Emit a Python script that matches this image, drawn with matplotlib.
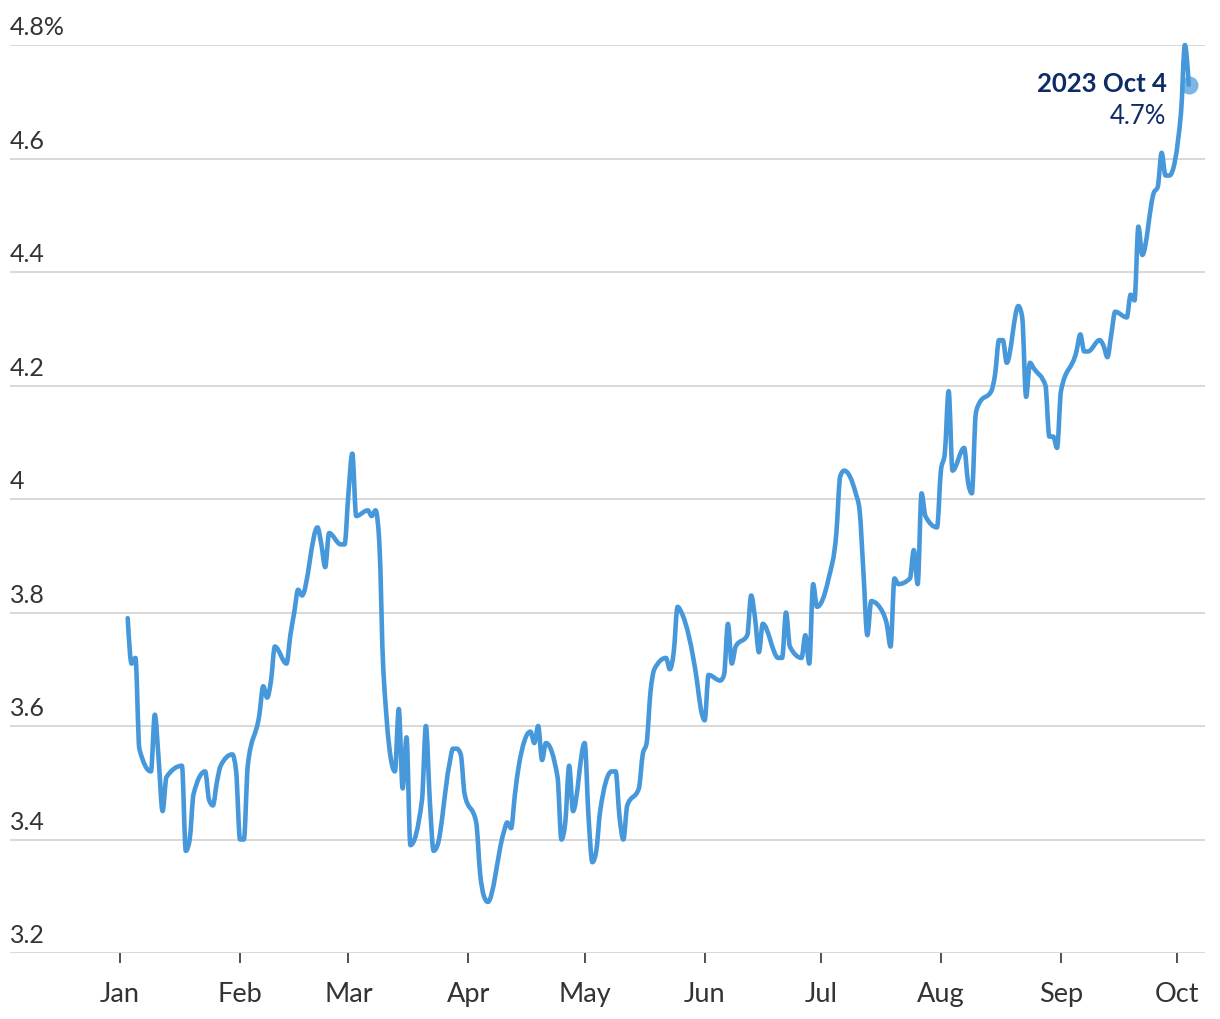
import numpy as np
import pandas as pd
import matplotlib.pyplot as plt
import matplotlib.dates as mdates
from matplotlib.path import Path
from matplotlib.patches import PathPatch

# 10-year Treasury yield, 2023, daily closes
dates = [
    '2023-01-03', '2023-01-04', '2023-01-05', '2023-01-06', '2023-01-09', '2023-01-10',
    '2023-01-11', '2023-01-12', '2023-01-13', '2023-01-17', '2023-01-18', '2023-01-19',
    '2023-01-20', '2023-01-23', '2023-01-24', '2023-01-25', '2023-01-26', '2023-01-27',
    '2023-01-30', '2023-01-31',
    '2023-02-01', '2023-02-02', '2023-02-03', '2023-02-06', '2023-02-07', '2023-02-08',
    '2023-02-09', '2023-02-10', '2023-02-13', '2023-02-14', '2023-02-15', '2023-02-16',
    '2023-02-17', '2023-02-21', '2023-02-22', '2023-02-23', '2023-02-24', '2023-02-27',
    '2023-02-28',
    '2023-03-01', '2023-03-02', '2023-03-03', '2023-03-06', '2023-03-07', '2023-03-08',
    '2023-03-09', '2023-03-10', '2023-03-13', '2023-03-14', '2023-03-15', '2023-03-16',
    '2023-03-17', '2023-03-20', '2023-03-21', '2023-03-22', '2023-03-23', '2023-03-24',
    '2023-03-27', '2023-03-28', '2023-03-29', '2023-03-30', '2023-03-31',
    '2023-04-03', '2023-04-04', '2023-04-05', '2023-04-06', '2023-04-10', '2023-04-11',
    '2023-04-12', '2023-04-13', '2023-04-14', '2023-04-17', '2023-04-18', '2023-04-19',
    '2023-04-20', '2023-04-21', '2023-04-24', '2023-04-25', '2023-04-26', '2023-04-27',
    '2023-04-28',
    '2023-05-01', '2023-05-02', '2023-05-03', '2023-05-04', '2023-05-05', '2023-05-08',
    '2023-05-09', '2023-05-10', '2023-05-11', '2023-05-12', '2023-05-15', '2023-05-16',
    '2023-05-17', '2023-05-18', '2023-05-19', '2023-05-22', '2023-05-23', '2023-05-24',
    '2023-05-25', '2023-05-26', '2023-05-30', '2023-05-31',
    '2023-06-01', '2023-06-02', '2023-06-05', '2023-06-06', '2023-06-07', '2023-06-08',
    '2023-06-09', '2023-06-12', '2023-06-13', '2023-06-14', '2023-06-15', '2023-06-16',
    '2023-06-20', '2023-06-21', '2023-06-22', '2023-06-23', '2023-06-26', '2023-06-27',
    '2023-06-28', '2023-06-29', '2023-06-30',
    '2023-07-03', '2023-07-05', '2023-07-06', '2023-07-07', '2023-07-10', '2023-07-11',
    '2023-07-12', '2023-07-13', '2023-07-14', '2023-07-17', '2023-07-18', '2023-07-19',
    '2023-07-20', '2023-07-21', '2023-07-24', '2023-07-25', '2023-07-26', '2023-07-27',
    '2023-07-28', '2023-07-31',
    '2023-08-01', '2023-08-02', '2023-08-03', '2023-08-04', '2023-08-07', '2023-08-08',
    '2023-08-09', '2023-08-10', '2023-08-11', '2023-08-14', '2023-08-15', '2023-08-16',
    '2023-08-17', '2023-08-18', '2023-08-21', '2023-08-22', '2023-08-23', '2023-08-24',
    '2023-08-25', '2023-08-28', '2023-08-29', '2023-08-30', '2023-08-31',
    '2023-09-01', '2023-09-05', '2023-09-06', '2023-09-07', '2023-09-08', '2023-09-11',
    '2023-09-12', '2023-09-13', '2023-09-14', '2023-09-15', '2023-09-18', '2023-09-19',
    '2023-09-20', '2023-09-21', '2023-09-22', '2023-09-25', '2023-09-26', '2023-09-27',
    '2023-09-28', '2023-09-29',
    '2023-10-02', '2023-10-03', '2023-10-04',
]

yields = [
    3.79, 3.71, 3.72, 3.56, 3.52, 3.62,
    3.54, 3.45, 3.51, 3.53, 3.38, 3.40,
    3.48, 3.52, 3.47, 3.46, 3.50, 3.53,
    3.55, 3.52,
    3.40, 3.40, 3.53, 3.62, 3.67, 3.65,
    3.68, 3.74, 3.71, 3.76, 3.80, 3.84,
    3.83, 3.95, 3.92, 3.88, 3.94, 3.92,
    3.92,
    4.01, 4.08, 3.97, 3.98, 3.97, 3.98,
    3.92, 3.70, 3.52, 3.63, 3.49, 3.58,
    3.39, 3.47, 3.60, 3.47, 3.38, 3.39,
    3.53, 3.56, 3.56, 3.55, 3.48,
    3.43, 3.34, 3.30, 3.29, 3.41, 3.43,
    3.42, 3.48, 3.53, 3.59, 3.57, 3.60,
    3.54, 3.57, 3.51, 3.40, 3.43, 3.53,
    3.45,
    3.57, 3.44, 3.36, 3.38, 3.45, 3.52,
    3.52, 3.44, 3.40, 3.46, 3.49, 3.55,
    3.57, 3.66, 3.70, 3.72, 3.70, 3.73,
    3.81, 3.80, 3.68, 3.63,
    3.61, 3.69, 3.68, 3.69, 3.78, 3.71,
    3.74, 3.76, 3.83, 3.79, 3.73, 3.78,
    3.72, 3.72, 3.80, 3.74, 3.72, 3.76,
    3.71, 3.85, 3.81,
    3.86, 3.94, 4.04, 4.05, 4.01, 3.98,
    3.87, 3.76, 3.82, 3.80, 3.78, 3.74,
    3.86, 3.85, 3.86, 3.91, 3.85, 4.01,
    3.97, 3.95,
    4.05, 4.08, 4.19, 4.05, 4.09, 4.03,
    4.01, 4.15, 4.17, 4.19, 4.22, 4.28,
    4.28, 4.24, 4.34, 4.32, 4.18, 4.24,
    4.23, 4.20, 4.11, 4.11, 4.09,
    4.19, 4.26, 4.29, 4.26, 4.26, 4.28,
    4.27, 4.25, 4.29, 4.33, 4.32, 4.36,
    4.35, 4.48, 4.43, 4.54, 4.55, 4.61,
    4.57, 4.57,
    4.68, 4.80, 4.73,
]

ytick_values = [3.2, 3.4, 3.6, 3.8, 4.0, 4.2, 4.4, 4.6, 4.8]
ytick_labels = ['3.2', '3.4', '3.6', '3.8', '4', '4.2', '4.4', '4.6', '4.8%']

last_label = '2023 Oct 4'
last_value_label = '4.7%'

dates = pd.to_datetime(dates)


def monotone_x_path(x, y):
    # same smoothing as d3.curveMonotoneX: cubic segments through every point
    x = np.asarray(x, dtype=float)
    y = np.asarray(y, dtype=float)
    h = np.diff(x)
    s = np.diff(y) / h
    t = np.zeros(len(x))
    for i in range(1, len(x) - 1):
        h0, h1, s0, s1 = h[i - 1], h[i], s[i - 1], s[i]
        p = (s0 * h1 + s1 * h0) / (h0 + h1)
        t[i] = (np.sign(s0) + np.sign(s1)) * min(abs(s0), abs(s1), 0.5 * abs(p))
    t[0] = (3 * s[0] - t[1]) / 2
    t[-1] = (3 * s[-1] - t[-2]) / 2
    verts = [(x[0], y[0])]
    codes = [Path.MOVETO]
    for i in range(len(x) - 1):
        dx = h[i] / 3
        verts += [(x[i] + dx, y[i] + dx * t[i]),
                  (x[i + 1] - dx, y[i + 1] - dx * t[i + 1]),
                  (x[i + 1], y[i + 1])]
        codes += [Path.CURVE4] * 3
    return Path(verts, codes)


plt.rcParams['font.family'] = ['Lato', 'DejaVu Sans']

line_color = '#4698da'
navy = '#0d2b66'
text_gray = '#333333'

fig = plt.figure(figsize=(12.2, 10.2), dpi=100)
ax = fig.add_axes([10 / 1220, 1 - 954 / 1020, 1195 / 1220, 908 / 1020])

xnum = mdates.date2num(dates)
curve = PathPatch(monotone_x_path(xnum, yields), facecolor='none', edgecolor=line_color,
                  lw=3.3, joinstyle='round', capstyle='round', clip_on=False, zorder=3)
ax.add_patch(curve)
ax.plot(dates[-1], yields[-1], 'o', ms=13, color=line_color, alpha=0.7,
        mec='none', clip_on=False, zorder=4)

ax.annotate(last_label, xy=(dates[-1], yields[-1]), xytext=(-16, 1.5),
            textcoords='offset points', ha='right', va='center',
            fontsize=18.5, fontweight='bold', color=navy)
ax.annotate(last_value_label, xy=(dates[-1], yields[-1]), xytext=(-16, -22.5),
            textcoords='offset points', ha='right', va='center',
            fontsize=18.5, color=navy)

ax.set_ylim(3.2, 4.8)
jan1 = mdates.date2num(pd.Timestamp('2023-01-01'))
oct1 = mdates.date2num(pd.Timestamp('2023-10-01'))
ax.set_xlim(jan1 - 28.4, oct1 + 7.2)

# horizontal gridlines with labels sitting on top of them
ax.set_yticks(ytick_values)
ax.set_yticklabels([])
ax.tick_params(axis='y', length=0)
ax.grid(axis='y', color='#d2d2d2', lw=1.2, zorder=1)
for v, lab in zip(ytick_values, ytick_labels):
    ax.annotate(lab, xy=(0, v), xycoords=('axes fraction', 'data'),
                xytext=(0, 5), textcoords='offset points',
                ha='left', va='bottom', fontsize=18, color=text_gray)

ax.xaxis.set_major_locator(mdates.MonthLocator())
ax.xaxis.set_major_formatter(mdates.DateFormatter('%b'))
ax.tick_params(axis='x', length=7, width=1.2, color=text_gray, pad=13.5,
               labelsize=19.5, labelcolor=text_gray)

for s in ['top', 'right', 'left', 'bottom']:
    ax.spines[s].set_visible(False)

fig.savefig('out.png', dpi=100)
